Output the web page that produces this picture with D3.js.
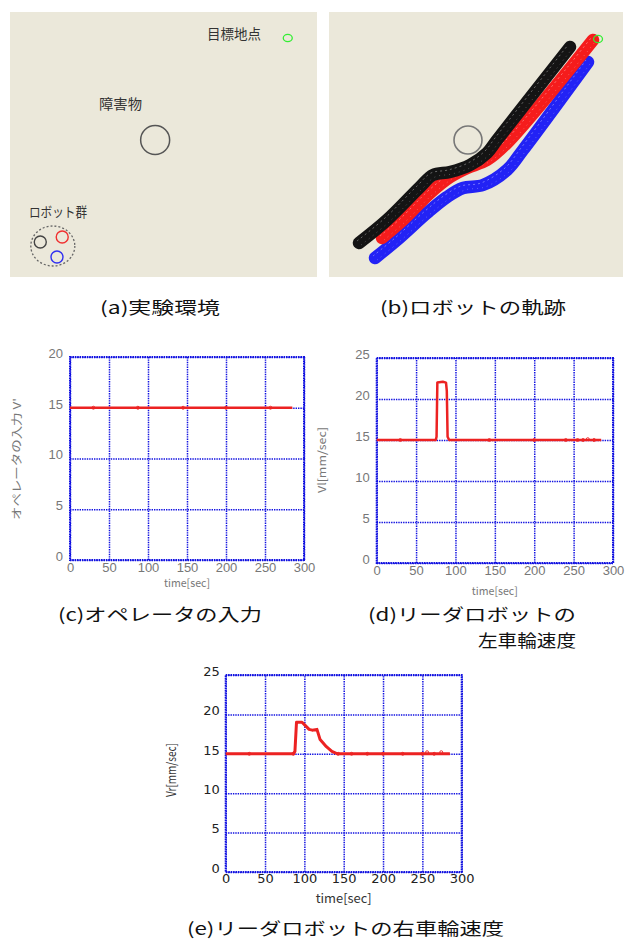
<!DOCTYPE html>
<html><head><meta charset="utf-8">
<script src="https://cdn.jsdelivr.net/npm/d3@7"></script>
<style>body{margin:0;background:#fff}svg{display:block}</style>
</head><body>
<script>
// ---------- DATA ----------
const timeTicks = [0, 50, 100, 150, 200, 250, 300];
const inputTicks = [0, 5, 10, 15, 20];
const speedTicks = [0, 5, 10, 15, 20, 25];

const operatorInput = [[0, 15], [285, 15]];
const operatorMarkers = [[30, 15], [87, 15], [145, 15], [200, 15], [257, 15]];

const leftWheel = [[0, 15], [75, 15], [76, 15.4], [77, 22], [84, 22.1], [88, 22], [89, 21], [90, 15.4], [92, 15], [285, 15]];
const leftMarkers = [[30, 15], [143, 15], [200, 15], [240, 15], [255, 15], [262, 15], [268, 15.1], [276, 15]];

const rightWheel = [[0, 15], [86, 15], [88, 15.3], [90, 19], [97, 19], [101, 18.6], [106, 18.1], [110, 18], [116, 18.1], [120, 16.8], [128, 15.9], [135, 15.3], [142, 15], [285, 15]];
const rightMarkers = [[30, 15], [86, 15], [143, 15], [160, 15], [180, 15], [200, 15], [225, 15], [250, 15], [256, 15.2], [265, 15], [274, 15.2]];

// field coordinates (units of the trajectory panel)
const obstacle = [139, 128];
const goal = [266, 26];
const robotStarts = [[29, 230], [50, 225], [45, 245]];
const robotColors = ["#444", "#f03030", "#3030f0"];
const groupCenter = [41, 234];

const pathBlack = [[30, 231], [58, 208], [91, 175], [104, 163], [121, 160], [141, 153], [158, 141], [168, 128], [241, 35]];
const pathRed = [[53, 226], [74, 208], [101, 181], [121, 165], [138, 156], [158, 148], [178, 131], [264, 28]];
const pathBlue = [[46, 246], [68, 228], [98, 201], [118, 185], [134, 176], [154, 173], [178, 158], [194, 138], [259, 50]];

const captions = ["(a)実験環境", "(b)ロボットの軌跡", "(c)オペレータの入力", "(d)リーダロボットの", "左車輪速度", "(e)リーダロボットの右車輪速度"];

// ---------- DRAW ----------
const svg = d3.select("body").append("svg").attr("width", 628).attr("height", 939);
svg.append("rect").attr("width", 628).attr("height", 939).attr("fill", "#fff");

const bg = "#ebe8da";
const fieldX = [0, 294], fieldY = [0, 265];

// Panel (a)
const ax = d3.scaleLinear(fieldX, [10, 317]);
const ay = d3.scaleLinear(fieldY, [12, 277]);
const ga = svg.append("g");
ga.append("rect").attr("x", 10).attr("y", 12).attr("width", 307).attr("height", 265).attr("fill", bg);
ga.append("circle").attr("cx", ax(obstacle[0])).attr("cy", ay(obstacle[1])).attr("r", 14.5)
  .attr("fill", "none").attr("stroke", "#555").attr("stroke-width", 1.5);
ga.append("ellipse").attr("cx", ax(goal[0])).attr("cy", ay(goal[1])).attr("rx", 4.5).attr("ry", 3.6)
  .attr("fill", "none").attr("stroke", "#33ee33").attr("stroke-width", 1.3);
ga.append("ellipse").attr("cx", ax(groupCenter[0])).attr("cy", ay(groupCenter[1])).attr("rx", 22).attr("ry", 20)
  .attr("fill", "none").attr("stroke", "#666").attr("stroke-width", 1.3).attr("stroke-dasharray", "2,2");
ga.selectAll("circle.robot").data(robotStarts).join("circle").attr("class", "robot")
  .attr("cx", d => ax(d[0])).attr("cy", d => ay(d[1])).attr("r", 6)
  .attr("fill", "none").attr("stroke", (d, i) => robotColors[i]).attr("stroke-width", 1.4);
const fieldFont = "'Noto Sans CJK JP', sans-serif";
[["目標地点", 207, 39, 54], ["障害物", 99, 109, 43], ["ロボット群", 29, 217, 58]].forEach(([t, x, y, L]) => {
  ga.append("text").attr("x", x).attr("y", y).attr("font-family", fieldFont).attr("font-size", 13.5)
    .attr("fill", "#333").attr("textLength", L).attr("lengthAdjust", "spacingAndGlyphs").text(t);
});

// Panel (b)
const bx = d3.scaleLinear(fieldX, [329, 623]);
const by = d3.scaleLinear(fieldY, [12, 277]);
const gb = svg.append("g");
gb.append("rect").attr("x", 329).attr("y", 12).attr("width", 294).attr("height", 265).attr("fill", bg);
gb.append("circle").attr("cx", bx(obstacle[0])).attr("cy", by(obstacle[1])).attr("r", 14)
  .attr("fill", "none").attr("stroke", "#777").attr("stroke-width", 1.6);
const traj = d3.line().x(d => bx(d[0])).y(d => by(d[1])).curve(d3.curveCatmullRom.alpha(0.5));
[[pathBlue, "#2222f5", "#a8a8ff"], [pathRed, "#f51c1c", "#ffa8a8"], [pathBlack, "#141414", "#a0a0a0"]].forEach(([p, c, c2]) => {
  gb.append("path").attr("d", traj(p)).attr("fill", "none").attr("stroke", c)
    .attr("stroke-width", 12.5).attr("stroke-linecap", "round").attr("stroke-linejoin", "round");
  gb.append("path").attr("d", traj(p)).attr("fill", "none").attr("stroke", c2)
    .attr("stroke-width", 1).attr("stroke-dasharray", "2,3").attr("opacity", 0.6)
    .attr("transform", "translate(-2,-2)");
  gb.append("path").attr("d", traj(p)).attr("fill", "none").attr("stroke", c2)
    .attr("stroke-width", 1).attr("stroke-dasharray", "1,4").attr("opacity", 0.45)
    .attr("transform", "translate(2,2)");
});
gb.append("ellipse").attr("cx", bx(goal[0] + 3)).attr("cy", by(goal[1] + 1)).attr("rx", 4.5).attr("ry", 3.6)
  .attr("fill", "none").attr("stroke", "#33ee33").attr("stroke-width", 1.3);

// ---------- time charts ----------
function chart(o) {
  const g = svg.append("g");
  const x = d3.scaleLinear([0, 300], [o.x0, o.x1]);
  const y = d3.scaleLinear([0, o.yMax], [o.y1, o.y0]);
  g.append("rect").attr("x", o.x0).attr("y", o.y0).attr("width", o.x1 - o.x0).attr("height", o.y1 - o.y0).attr("fill", "#fff");
  const gx = g.append("g").attr("transform", `translate(0,${o.y1})`)
    .call(d3.axisBottom(x).tickValues(timeTicks).tickSize(-(o.y1 - o.y0)).tickPadding(o.xPad).tickFormat(d3.format("d")));
  const gy = g.append("g").attr("transform", `translate(${o.x0},0)`)
    .call(d3.axisLeft(y).tickValues(o.yTicks).tickSize(-(o.x1 - o.x0)).tickPadding(o.yPad).tickFormat(d3.format("d")));
  [gx, gy].forEach(a => {
    a.select(".domain").remove();
    a.selectAll(".tick line").attr("stroke", "#1010e0").attr("stroke-width", 1.5).attr("stroke-dasharray", "1.4,1");
    a.selectAll("text").attr("font-family", o.tickFont).attr("font-size", 13).attr("fill", o.tickColor);
  });
  gy.selectAll("text").attr("dy", "0.02em");
  g.append("rect").attr("x", o.x0).attr("y", o.y0).attr("width", o.x1 - o.x0).attr("height", o.y1 - o.y0)
    .attr("fill", "none").attr("stroke", "#1010e0").attr("stroke-width", 2).attr("stroke-dasharray", "1.6,0.8");
  const line = d3.line().x(d => x(d[0])).y(d => y(d[1]));
  g.append("path").attr("d", line(o.data)).attr("fill", "none").attr("stroke", "#ec2222")
    .attr("stroke-width", o.lw).attr("stroke-linejoin", "round");
  g.selectAll("circle.m").data(o.markers).join("circle").attr("class", "m")
    .attr("cx", d => x(d[0])).attr("cy", d => y(d[1])).attr("r", 1.5)
    .attr("fill", "none").attr("stroke", "#ec2222").attr("stroke-width", 0.9);
  // axis titles
  g.append("text").attr("x", (o.x0 + o.x1) / 2).attr("y", o.xtY).attr("text-anchor", "middle")
    .attr("font-family", "'Noto Sans CJK JP', sans-serif").attr("font-size", o.titleSize).attr("fill", o.titleColor)
    .attr("textLength", o.xtLen).attr("lengthAdjust", "spacingAndGlyphs").text("time[sec]");
  g.append("text").attr("transform", `translate(${o.ytX},${o.ytY}) rotate(-90)`).attr("text-anchor", "middle")
    .attr("font-family", "'Noto Sans CJK JP', sans-serif").attr("font-size", o.titleSize).attr("fill", o.titleColor)
    .attr("font-weight", o.titleWeight || "normal")
    .attr("textLength", o.ytLen).attr("lengthAdjust", "spacingAndGlyphs").text(o.yLabel);
}

chart({x0: 70, x1: 304, y0: 357, y1: 560, yMax: 20, yTicks: inputTicks, data: operatorInput, markers: operatorMarkers,
  tickFont: "'Liberation Sans', sans-serif", tickColor: "#777", xPad: 3, yPad: 7, lw: 2.5,
  titleSize: 11, titleColor: "#777", xtY: 587, xtLen: 46, ytX: 21, ytY: 459, ytLen: 122, yLabel: "オペレータの入力 V'"});
chart({x0: 376.7, x1: 613, y0: 358, y1: 563, yMax: 25, yTicks: speedTicks, data: leftWheel, markers: leftMarkers,
  tickFont: "'Liberation Sans', sans-serif", tickColor: "#777", xPad: 3, yPad: 7, lw: 2.5,
  titleSize: 11, titleColor: "#777", xtY: 595, xtLen: 46, ytX: 326, ytY: 460, ytLen: 66, yLabel: "Vl[mm/sec]"});
chart({x0: 225.7, x1: 461.7, y0: 675, y1: 872, yMax: 25, yTicks: speedTicks, data: rightWheel, markers: rightMarkers,
  tickFont: "'DejaVu Sans', sans-serif", tickColor: "#222", xPad: 2, yPad: 6, lw: 3,
  titleSize: 12.5, titleColor: "#333", titleWeight: "normal", xtY: 903, xtLen: 56, ytX: 176, ytY: 770, ytLen: 54, yLabel: "Vr[mm/sec]"});

// ---------- captions ----------
const capFont = "'Noto Sans CJK JP', sans-serif";
[[0, 100, 314, 120], [1, 380, 314, 186], [2, 58, 621, 204], [3, 368, 621, 208], [4, 478, 647, 98], [5, 187, 935, 317]].forEach(([i, x, yb, L]) => {
  svg.append("text").attr("x", x).attr("y", yb).attr("font-family", capFont).attr("font-size", 17)
    .attr("fill", "#111").attr("textLength", L).attr("lengthAdjust", "spacingAndGlyphs").text(captions[i]);
});
</script>
</body></html>
